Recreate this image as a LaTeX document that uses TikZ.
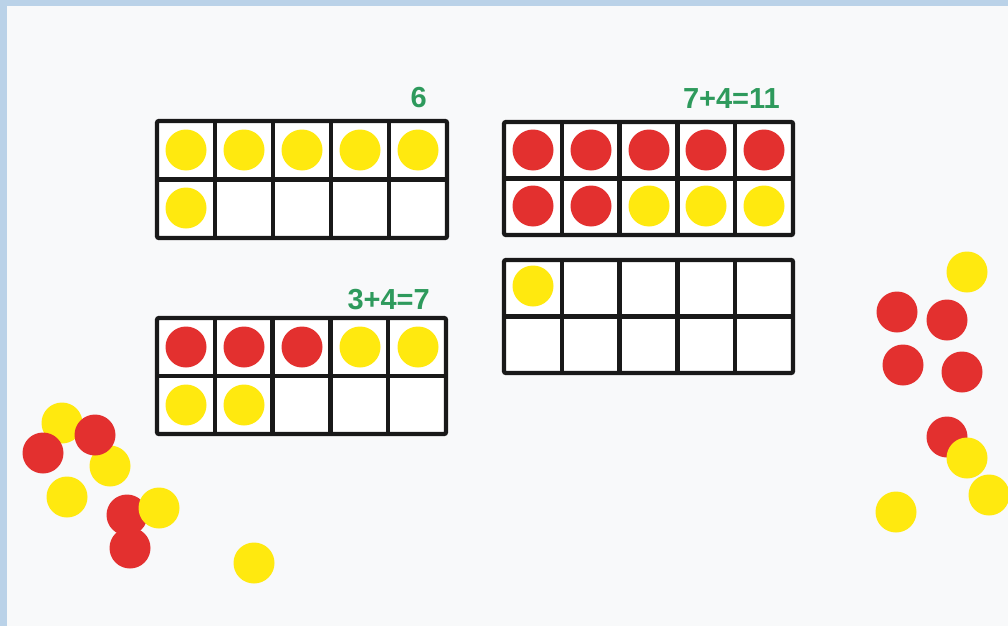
\documentclass[tikz,border=0pt]{standalone}
\usepackage{fontspec}
\setmainfont{Liberation Sans}
\usepackage{tikz}
\definecolor{bgpaper}{HTML}{F8F9FA}
\definecolor{edgeblue}{HTML}{BAD2E8}
\definecolor{counterred}{HTML}{E3302F}
\definecolor{counteryel}{HTML}{FFE90F}
\definecolor{sumgreen}{HTML}{2E9A5C}
\tikzset{
  tenframe/.style={line width=4.3pt,black!90},
  sumlabel/.style={text=sumgreen,font=\bfseries\fontsize{29}{29}\selectfont,
    anchor=base east,inner sep=0pt},
  every node/.append style={font=\sffamily}
}

\begin{document}
\begin{tikzpicture}[x=1pt,y=-1pt]
  % paper and the blue edge of the screen
  \fill[edgeblue] (0,0) rectangle (1008,626);
  \fill[bgpaper] (7,6) rectangle (1008,626);
  \useasboundingbox (0,0) rectangle (1008,626);
  % ten-frames: top left corner, width, height
  \foreach \fx/\fy/\fw/\fh in {157/121/290/117,504/122/289/113,504/260/289/113,157/318/289/116} {
    \fill[white] (\fx,\fy) rectangle ++(\fw,\fh);
    \draw[tenframe] (\fx,\fy+\fh/2) -- ++(\fw,0);
    \foreach \k in {1,...,4}
      \draw[tenframe] (\fx+\k*\fw/5,\fy) -- ++(0,\fh);
    \draw[tenframe,rounded corners=2pt] (\fx,\fy) rectangle ++(\fw,\fh);
  }
  % counters in the frames
  \foreach \cx/\cy/\cc in {186/150/counteryel,244/150/counteryel,302/150/counteryel,
      360/150/counteryel,418/150/counteryel,186/208/counteryel,
      533/150/counterred,591/150/counterred,649/150/counterred,706/150/counterred,
      764/150/counterred,533/206/counterred,591/206/counterred,649/206/counteryel,
      706/206/counteryel,764/206/counteryel,
      533/286/counteryel,
      186/347/counterred,244/347/counterred,302/347/counterred,360/347/counteryel,
      418/347/counteryel,186/405/counteryel,244/405/counteryel}
    \fill[\cc] (\cx,\cy) circle (20.5);
  % loose counters, left heap
  \foreach \cx/\cy/\cc in {62/423/counteryel,110/466/counteryel,43/453/counterred,
      95/435/counterred,67/497/counteryel,127/515/counterred,130/548/counterred,
      159/508/counteryel,254/563/counteryel}
    \fill[\cc] (\cx,\cy) circle (20.5);
  % loose counters, right heap
  \foreach \cx/\cy/\cc in {967/272/counteryel,897/312/counterred,947/320/counterred,
      903/365/counterred,962/372/counterred,947/437/counterred,967/458/counteryel,
      989/495/counteryel,896/512/counteryel}
    \fill[\cc] (\cx,\cy) circle (20.5);
  % sums
  \node[sumlabel] (sixlbl) at (427,107) {6};
  \node[sumlabel] (elevenlbl) at (780,108) {7+4=11};
  \node[sumlabel] (sevenlbl) at (430,309) {3+4=7};
\end{tikzpicture}
\end{document}
